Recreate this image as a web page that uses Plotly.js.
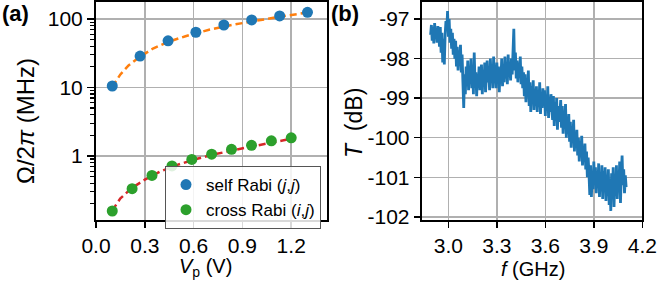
<!DOCTYPE html>
<html>
<head>
<meta charset="utf-8">
<script src="https://cdn.plot.ly/plotly-3.0.1.min.js"></script>
<style>html,body{margin:0;padding:0;background:#fff;}#plot{width:657px;height:282px;}</style>
</head>
<body>
<div id="plot"></div>
<script>
// Panel (a): Rabi frequencies vs pulse amplitude
const selfV = [0.10, 0.271, 0.443, 0.614, 0.786, 0.957, 1.129, 1.30];
const selfRabi = [10.5, 28.7, 48, 64, 81.7, 96.7, 111, 125];
const crossV = [0.10, 0.222, 0.344, 0.467, 0.589, 0.711, 0.833, 0.956, 1.078, 1.20];
const crossRabi = [0.157, 0.333, 0.52, 0.714, 0.89, 1.06, 1.25, 1.43, 1.66, 1.84];
const selfFitV = [0.10, 0.15, 0.20, 0.27, 0.35, 0.44, 0.55, 0.70, 0.85, 1.00, 1.15, 1.30];
const selfFit = [10.2, 15.5, 21, 28, 37, 46, 56, 70, 83, 96, 110, 124];
const crossFitV = [0.10, 0.15, 0.22, 0.30, 0.40, 0.50, 0.60, 0.70, 0.85, 1.00, 1.10, 1.20];
const crossFit = [0.16, 0.24, 0.34, 0.45, 0.60, 0.74, 0.88, 1.02, 1.22, 1.42, 1.58, 1.78];
const xTicksA = [0.0, 0.3, 0.6, 0.9, 1.2];
const xTickTextA = ['0.0', '0.3', '0.6', '0.9', '1.2'];
const yTicksA = [1, 10, 100];
const yTickTextA = ['1', '10', '100'];
const yMinorTicksA = [0.2, 0.3, 0.4, 0.5, 0.6, 0.7, 0.8, 0.9, 2, 3, 4, 5, 6, 7, 8, 9, 20, 30, 40, 50, 60, 70, 80, 90];

// Panel (b): transmission spectrum
const fStart = 2.89, fStep = 0.005;
const transmission = [
-97.40,-97.15,-97.55,-97.20,-97.62,-97.10,-97.45,-97.25,-97.60,-97.18,
-97.30,-97.70,-97.20,-97.85,-97.35,-98.10,-97.50,-98.15,-97.40,-97.05,
-97.30,-96.80,-97.45,-97.00,-97.60,-97.25,-97.75,-97.35,-97.90,-97.50,
-98.00,-97.55,-98.20,-97.70,-98.30,-97.80,-98.10,-97.65,-98.35,-97.90,
-98.60,-99.25,-98.40,-98.90,-98.20,-98.70,-98.05,-98.80,-98.30,-98.60,
-98.00,-98.75,-98.25,-98.90,-97.85,-98.60,-98.35,-98.95,-98.40,-98.70,
-98.20,-98.80,-98.45,-98.15,-98.90,-98.30,-98.70,-98.10,-98.85,-98.40,
-98.05,-98.60,-98.30,-98.80,-98.00,-98.55,-98.25,-98.75,-97.95,-98.50,
-98.35,-98.75,-98.10,-98.60,-98.20,-98.85,-98.30,-98.55,-98.00,-98.70,
-98.25,-98.60,-97.95,-98.50,-98.15,-98.65,-97.90,-98.45,-98.20,-98.55,
-98.00,-98.40,-97.70,-97.25,-98.30,-97.85,-98.50,-98.05,-98.60,-98.10,
-98.45,-97.95,-98.65,-98.20,-98.75,-98.35,-98.95,-98.40,-99.10,-98.55,
-98.85,-98.30,-99.20,-98.60,-99.35,-98.70,-99.10,-98.55,-99.30,-98.80,
-99.05,-98.70,-99.35,-98.85,-99.20,-98.60,-99.40,-98.90,-99.25,-98.75,
-99.15,-98.80,-99.45,-98.95,-99.30,-98.70,-99.50,-99.00,-99.35,-98.90,
-99.25,-99.55,-98.95,-99.70,-99.10,-99.45,-99.00,-99.80,-99.20,-99.60,
-99.40,-99.05,-99.75,-99.20,-99.90,-99.35,-99.65,-99.15,-100.00,-99.50,
-99.85,-99.40,-100.10,-99.60,-100.25,-99.75,-100.05,-99.55,-100.35,-99.90,
-100.20,-99.80,-100.45,-100.00,-100.60,-100.10,-100.40,-99.95,-100.70,-100.25,
-100.55,-100.15,-100.80,-100.35,-101.00,-100.50,-100.90,-101.45,-100.70,-101.50,
-100.90,-101.30,-100.60,-101.15,-100.75,-101.40,-100.85,-101.25,-100.65,-101.50,
-100.95,-101.35,-100.70,-101.55,-100.85,-101.20,-100.75,-101.60,-101.00,-101.30,
-100.80,-101.70,-101.05,-101.85,-100.90,-101.45,-100.75,-101.75,-101.00,-101.35,
-100.70,-101.55,-100.85,-101.30,-100.60,-101.65,-100.90,-100.45,-101.20,-100.80,
-101.40,-100.95,-101.25
];
const freq = transmission.map((_, i) => +(fStart + i * fStep).toFixed(4));
const xTicksB = [3.0, 3.3, 3.6, 3.9, 4.2];
const xTickTextB = ['3.0', '3.3', '3.6', '3.9', '4.2'];
const yTicksB = [-97, -98, -99, -100, -101, -102];
const yTickTextB = ['-97', '-98', '-99', '-100', '-101', '-102'];

const FONT = 'Liberation Sans, Arial, Helvetica, sans-serif';

const traces = [
  // invisible carrier so the major-tick log axis (y3) is drawn
  {x: selfV, y: selfRabi, xaxis: 'x', yaxis: 'y3', mode: 'markers', showlegend: false,
   marker: {size: 1, opacity: 0}, hoverinfo: 'skip'},
  {x: selfFitV, y: selfFit, xaxis: 'x', yaxis: 'y', mode: 'lines', showlegend: false,
   line: {color: '#ff7f0e', width: 2.5, dash: '7px,4px'}, hoverinfo: 'skip'},
  {x: crossFitV, y: crossFit, xaxis: 'x', yaxis: 'y', mode: 'lines', showlegend: false,
   line: {color: '#d62728', width: 2.5, dash: '7px,4px'}, hoverinfo: 'skip'},
  {x: selfV, y: selfRabi, xaxis: 'x', yaxis: 'y', mode: 'markers', name: 'self Rabi (<i>j</i>,<i>j</i>)',
   marker: {color: '#1f77b4', size: 11}},
  {x: crossV, y: crossRabi, xaxis: 'x', yaxis: 'y', mode: 'markers', name: 'cross Rabi (<i>i</i>,<i>j</i>)',
   marker: {color: '#2ca02c', size: 11}},
  {x: freq, y: transmission, xaxis: 'x2', yaxis: 'y2', mode: 'lines', showlegend: false,
   line: {color: '#1f77b4', width: 2.8}}
];

const gridColor = '#b0b0b0';
const axisCommon = {
  showline: true, mirror: true, linecolor: 'black', linewidth: 2,
  ticks: 'outside', ticklen: 6, tickwidth: 1.5, tickcolor: 'black',
  showgrid: true, gridcolor: gridColor, gridwidth: 1.5, zeroline: false,
  tickfont: {family: FONT, size: 21, color: 'black'}
};
const domA = [96/657, 327/657];
const domY = [(282-220)/282, (282-2)/282];
const rangeYA = [Math.log10(0.116), Math.log10(177)];

const layout = {
  width: 657, height: 282,
  margin: {l: 0, r: 0, t: 0, b: 0},
  paper_bgcolor: 'white', plot_bgcolor: 'white',
  font: {family: FONT, color: 'black'},
  showlegend: true,
  legend: {
    x: 165/657, y: (282-166)/282, xanchor: 'left', yanchor: 'top',
    bgcolor: 'rgba(255,255,255,0.85)', bordercolor: '#555', borderwidth: 1,
    font: {family: FONT, size: 17, color: 'black'},
    tracegroupgap: 0, itemwidth: 30
  },
  xaxis: Object.assign({}, axisCommon, {
    domain: domA, range: [0, 1.42], anchor: 'y',
    tickmode: 'array', tickvals: xTicksA, ticktext: xTickTextA
  }),
  // minor ticks of the log axis
  yaxis: Object.assign({}, axisCommon, {
    domain: domY, type: 'log', range: rangeYA, anchor: 'x',
    tickmode: 'array', tickvals: yMinorTicksA, ticktext: yMinorTicksA.map(() => ''),
    ticklen: 4, tickwidth: 1.2, showgrid: false
  }),
  // major ticks, labels and grid of the log axis
  yaxis3: Object.assign({}, axisCommon, {
    domain: domY, type: 'log', range: rangeYA, anchor: 'x', overlaying: 'y', side: 'left',
    tickmode: 'array', tickvals: yTicksA, ticktext: yTickTextA, ticklen: 7
  }),
  xaxis2: Object.assign({}, axisCommon, {
    domain: [421.7/657, 642.3/657], range: [2.835, 4.2], anchor: 'y2',
    tickmode: 'array', tickvals: xTicksB, ticktext: xTickTextB
  }),
  yaxis2: Object.assign({}, axisCommon, {
    domain: domY, range: [-102.08, -96.57], anchor: 'x2',
    tickmode: 'array', tickvals: yTicksB, ticktext: yTickTextB
  }),
  annotations: [
    {text: '<b>(a)</b>', xref: 'paper', yref: 'paper', x: 0, y: (282-13)/282, xanchor: 'left', yanchor: 'middle',
     showarrow: false, font: {family: FONT, size: 22}},
    {text: '<b>(b)</b>', xref: 'paper', yref: 'paper', x: 329/657, y: (282-13)/282, xanchor: 'left', yanchor: 'middle',
     showarrow: false, font: {family: FONT, size: 22}},
    {text: 'Ω/2<i>π</i> (MHz)', xref: 'paper', yref: 'paper', x: 25/657, y: (282-121)/282, textangle: -90,
     xanchor: 'center', yanchor: 'middle', showarrow: false, font: {family: FONT, size: 24}},
    {text: '<i>V</i><sub>p</sub> (V)', xref: 'paper', yref: 'paper', x: 205/657, y: (282-267)/282,
     xanchor: 'center', yanchor: 'middle', showarrow: false, font: {family: FONT, size: 20}},
    {text: '<i>T</i>  (dB)', xref: 'paper', yref: 'paper', x: 354/657, y: (282-123)/282, textangle: -90,
     xanchor: 'center', yanchor: 'middle', showarrow: false, font: {family: FONT, size: 23}},
    {text: '<i>f</i> (GHz)', xref: 'paper', yref: 'paper', x: 533/657, y: (282-269)/282,
     xanchor: 'center', yanchor: 'middle', showarrow: false, font: {family: FONT, size: 20}}
  ]
};

Plotly.newPlot('plot', traces, layout, {staticPlot: true, displayModeBar: false});
</script>
</body>
</html>
